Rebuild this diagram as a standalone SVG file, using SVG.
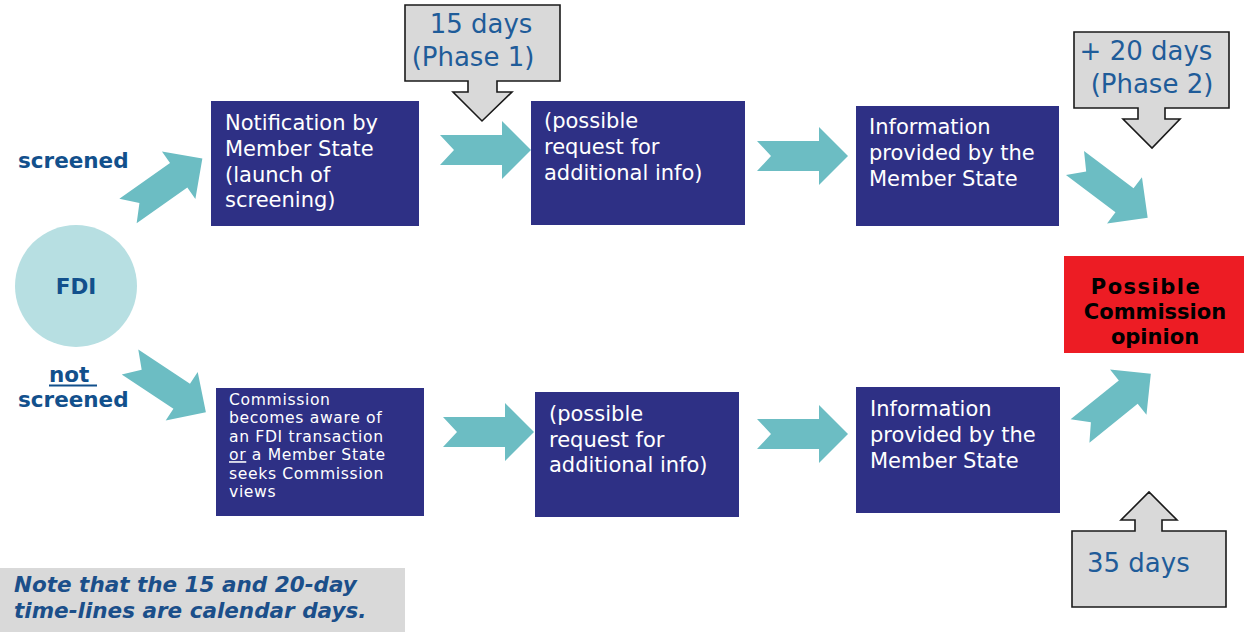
<svg xmlns="http://www.w3.org/2000/svg" xmlns:xlink="http://www.w3.org/1999/xlink" width="1244" height="632" viewBox="0 0 1244 632">
<style>
.box{fill:#2E3085;}
.bt{font-family:"DejaVu Sans","Liberation Sans",sans-serif;font-size:21px;fill:#FFFFFF;}
.bs{font-family:"DejaVu Sans","Liberation Sans",sans-serif;font-size:15.6px;letter-spacing:0.65px;fill:#FFFFFF;}
.lbl{font-family:"DejaVu Sans","Liberation Sans",sans-serif;font-size:21.5px;font-weight:bold;fill:#12508C;}
.call{fill:#D9D9D9;stroke:#1A1A1A;stroke-width:1.6;}
.ct{font-family:"DejaVu Sans","Liberation Sans",sans-serif;font-size:26px;fill:#1F5C99;}
.rt{font-family:"DejaVu Sans","Liberation Sans",sans-serif;font-size:21px;font-weight:bold;fill:#000000;text-anchor:middle;}
.note{font-family:"DejaVu Sans","Liberation Sans",sans-serif;font-size:21.5px;font-weight:bold;font-style:italic;fill:#1B4F8A;}
.arr{fill:#6CBDC3;}
</style>
<defs>
<path id="chev" d="M0,-15 H62 V-29 L91,0 L62,29 V15 H0 L14,0 Z"/>
</defs>
<rect width="1244" height="632" fill="#FFFFFF"/>

<g id="connectors">
<use xlink:href="#chev" href="#chev" class="arr" transform="translate(128,211) rotate(-35.2)"/>
<use xlink:href="#chev" href="#chev" class="arr" transform="translate(130,362) rotate(33.5)"/>
<use xlink:href="#chev" href="#chev" class="arr" transform="translate(440,150)"/>
<use xlink:href="#chev" href="#chev" class="arr" transform="translate(757,156)"/>
<use xlink:href="#chev" href="#chev" class="arr" transform="translate(443,432)"/>
<use xlink:href="#chev" href="#chev" class="arr" transform="translate(757,434)"/>
<use xlink:href="#chev" href="#chev" class="arr" transform="translate(1075,163) rotate(37)"/>
<use xlink:href="#chev" href="#chev" class="arr" transform="translate(1080,431) rotate(-38.9)"/>
</g>

<g id="fdi">
<circle cx="76" cy="286" r="61" fill="#B7DFE2"/>
<text x="76" y="294" class="lbl" text-anchor="middle">FDI</text>
</g>

<g id="label-screened">
<text x="18" y="168" class="lbl">screened</text>
</g>

<g id="label-not-screened">
<text x="49" y="382" class="lbl">not</text>
<line x1="49" y1="385.5" x2="97" y2="385.5" stroke="#12508C" stroke-width="1.8"/>
<text x="18" y="407" class="lbl">screened</text>
</g>

<g id="notification">
<rect class="box" x="211" y="101" width="208" height="125"/>
<text class="bt" x="225" y="130">Notification by</text>
<text class="bt" x="225" y="156">Member State</text>
<text class="bt" x="225" y="182">(launch of</text>
<text class="bt" x="225" y="207">screening)</text>
</g>

<g id="request-top">
<rect class="box" x="531" y="101" width="214" height="124"/>
<text class="bt" x="544" y="128">(possible</text>
<text class="bt" x="544" y="154">request for</text>
<text class="bt" x="544" y="180">additional info)</text>
</g>

<g id="info-top">
<rect class="box" x="856" y="106" width="203" height="120"/>
<text class="bt" x="869" y="134">Information</text>
<text class="bt" x="869" y="160">provided by the</text>
<text class="bt" x="869" y="186">Member State</text>
</g>

<g id="commission-aware">
<rect class="box" x="216" y="388" width="208" height="128"/>
<text class="bs" x="229" y="405">Commission</text>
<text class="bs" x="229" y="423.4">becomes aware of</text>
<text class="bs" x="229" y="441.8">an FDI transaction</text>
<text class="bs" x="229" y="460.2"><tspan text-decoration="underline">or</tspan> a Member State</text>
<text class="bs" x="229" y="478.6">seeks Commission</text>
<text class="bs" x="229" y="497">views</text>
</g>

<g id="request-bottom">
<rect class="box" x="535" y="392" width="204" height="125"/>
<text class="bt" x="549" y="421">(possible</text>
<text class="bt" x="549" y="447">request for</text>
<text class="bt" x="549" y="472">additional info)</text>
</g>

<g id="info-bottom">
<rect class="box" x="856" y="387" width="204" height="126"/>
<text class="bt" x="870" y="416">Information</text>
<text class="bt" x="870" y="442">provided by the</text>
<text class="bt" x="870" y="468">Member State</text>
</g>

<g id="opinion">
<rect x="1064" y="256" width="180" height="97" fill="#ED1C24"/>
<text class="rt" x="1146" y="294" letter-spacing="1.5">Possible</text>
<text class="rt" x="1155" y="319">Commission</text>
<text class="rt" x="1155" y="344">opinion</text>
</g>

<g id="phase1">
<path class="call" d="M405,5 H560 V81 H497 V92 H512 L482,121 L453,92 H468 V81 H405 Z"/>
<text class="ct" x="481" y="33" text-anchor="middle">15 days</text>
<text class="ct" x="473" y="66" text-anchor="middle">(Phase 1)</text>
</g>

<g id="phase2">
<path class="call" d="M1074,32 H1229 V108 H1165 V119 H1180 L1152,148 L1123,119 H1138 V108 H1074 Z"/>
<text class="ct" x="1146" y="60" text-anchor="middle">+ 20 days</text>
<text class="ct" x="1152" y="93" text-anchor="middle">(Phase 2)</text>
</g>

<g id="total35">
<path class="call" d="M1072,607 H1226 V531 H1162 V520 H1177 L1149,492 L1121,520 H1135 V531 H1072 Z"/>
<text class="ct" x="1087" y="572">35 days</text>
</g>

<g id="note">
<rect x="0" y="568" width="405" height="64" fill="#D9D9D9"/>
<text class="note" x="14" y="592">Note that the 15 and 20-day</text>
<text class="note" x="14" y="618">time-lines are calendar days.</text>
</g>
</svg>
